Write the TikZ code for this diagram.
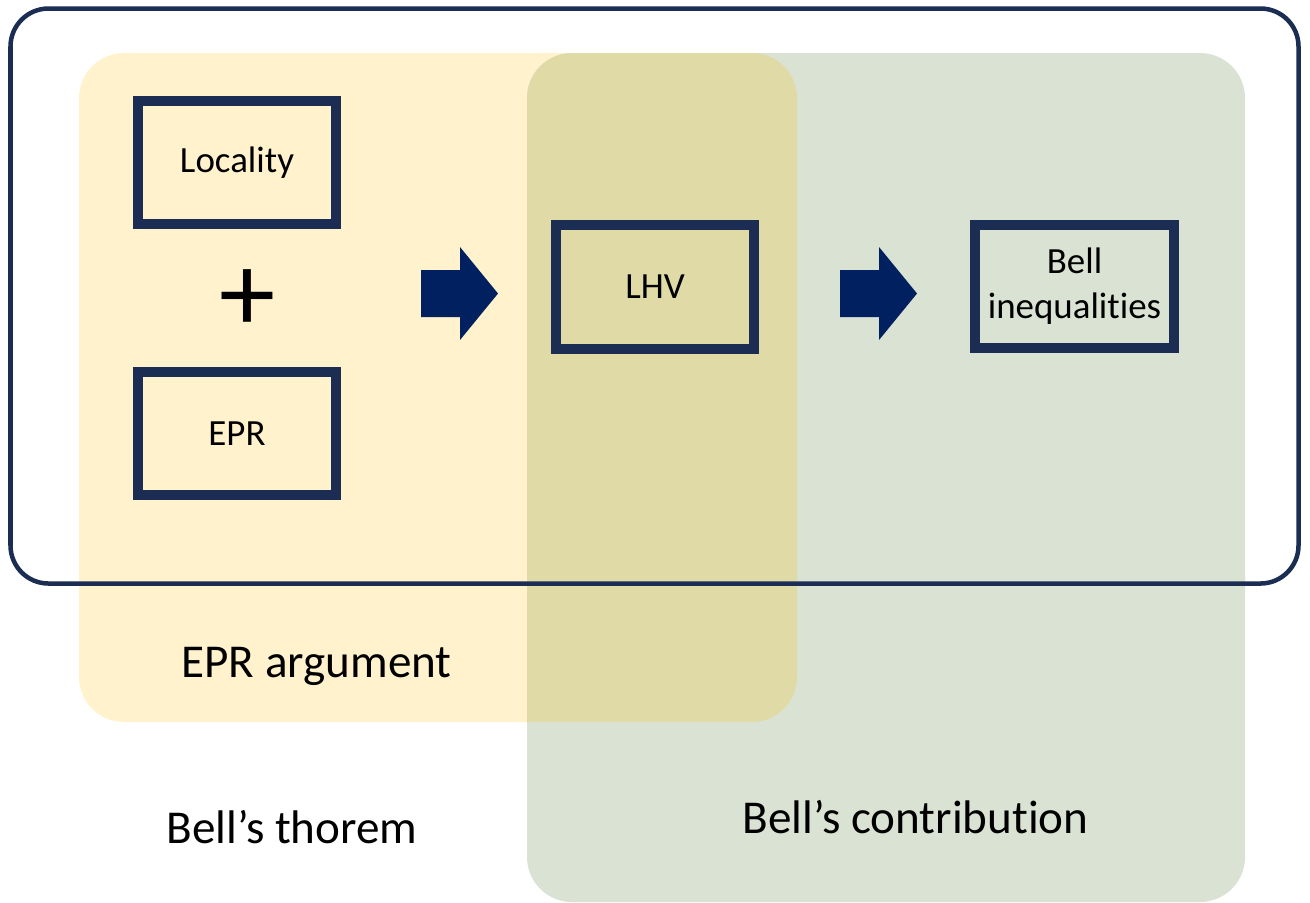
\documentclass[tikz,border=0pt]{standalone}
\usepackage{fontspec}
\setmainfont{Carlito}[RawFeature={-liga;-clig;-calt;-dlig}]

\definecolor{framecol}{HTML}{1B2D52}
\definecolor{arrowcol}{HTML}{002060}
\definecolor{eprfill}{HTML}{FFF2CC}
\definecolor{bellfill}{HTML}{DAE3D3}
\definecolor{bothfill}{HTML}{E0DBA6}

\begin{document}
\begin{tikzpicture}[x=0.01cm, y=-0.01cm, node distance=2.705cm]
	\tikzstyle{block} = [draw=framecol, line width=0.1cm, minimum width=1.98cm, minimum height=1.23cm, inner sep=0pt, align=center, font=\fontsize{10.5}{12.8}\selectfont]
	\tikzstyle{caption} = [anchor=base, font=\fontsize{13.4}{16}\selectfont]
	\tikzstyle{push} = [fill=arrowcol, draw=none]
	
	\useasboundingbox (0,0) rectangle (1310,902);
	
	% Shaded areas, with the overlap in a darker tone
	\fill[eprfill, rounded corners=0.45cm] (79,53) rectangle (797,722);
	\fill[bellfill, rounded corners=0.45cm] (527,53) rectangle (1245,902);
	\begin{scope}
		\clip[rounded corners=0.45cm] (79,53) rectangle (797,722);
		\fill[bothfill, rounded corners=0.45cm] (527,53) rectangle (1245,902);
	\end{scope}
	
	% Outer frame
	\draw[framecol, line width=0.045cm, rounded corners=0.38cm] (10.5,8.5) rectangle (1298.5,583.5);
	
	% Define the boxes
	\node[block] (loc) at (237,162.5) {Locality};
	\node[block] (epr) [below of=loc] {EPR};
	\node[font=\fontsize{32}{32}\selectfont] (plus) at (248,301) {+};
	\node[block] (lhv) at (655,287) {LHV};
	\node[block] (ineq) at (1074.5,286.5) {Bell\\inequalit\kern0pt ies};
	
	% Block arrows between the steps
	\foreach \x in {421,840}
		\fill[push] (\x,270) -- ++(39,0) -- ++(0,-23) -- ++(38,46.5) -- ++(-38,46.5) -- ++(0,-23) -- ++(-39,0) -- cycle;
	
	% Captions
	\node[caption] (eprcap) at (316.5,677) {EPR argument};
	\node[caption] (thm) at (292,843) {Bell’s thorem};
	\node[caption] (contrib) at (915.5,833) {Bell’s contribut\kern0pt ion};
	
\end{tikzpicture}
\end{document}
